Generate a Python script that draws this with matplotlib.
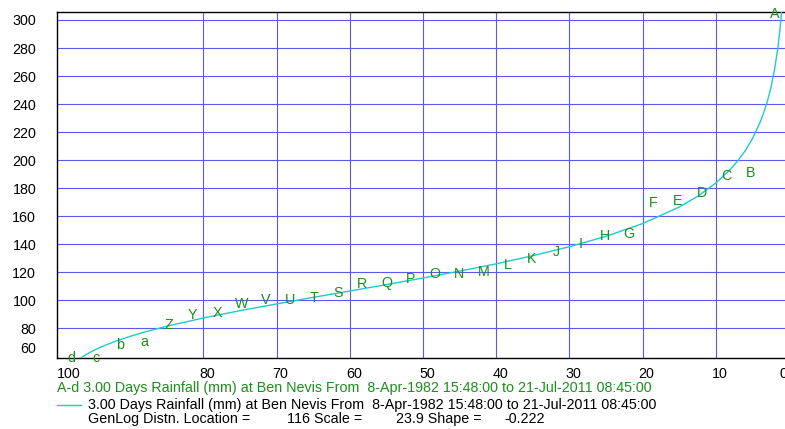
import matplotlib
matplotlib.use("Agg")
import matplotlib.pyplot as plt
from matplotlib.transforms import ScaledTranslation
from matplotlib.lines import Line2D

plt.rcParams['font.family'] = ['Liberation Sans', 'DejaVu Sans']

# Observed points (letters A..d): exceedance percentage and rainfall (mm)
point_labels = list("ABCDEFGHIJKLMNOPQRSTUVWXYZ") + list("abcd")
point_pct = [1.99, 5.30, 8.61, 11.92, 15.23, 18.54, 21.85, 25.17, 28.48, 31.79,
             35.10, 38.41, 41.72, 45.03, 48.34, 51.66, 54.97, 58.28, 61.59, 64.90,
             68.21, 71.52, 74.83, 78.15, 81.46, 84.77, 88.08, 91.39, 94.70, 98.01]
point_mm = [304.4, 191.1, 188.8, 176.9, 170.9, 169.2, 147.1, 146.0, 140.6, 134.7,
            129.9, 125.6, 120.4, 119.0, 119.0, 115.6, 112.1, 111.4, 105.6, 101.4,
            100.2, 100.2, 97.6, 91.1, 89.9, 82.8, 70.2, 68.0, 59.0, 59.0]

# Fitted GenLog curve
curve_pct = [1.0, 1.1, 1.2, 1.5, 2.0, 2.5, 3.0, 3.5, 4.0, 5.0, 6.0, 7.0, 8.0, 10.0,
             12.5, 15.0, 20.0, 25.0, 30.0, 35.0, 40.0, 45.0, 50.0, 55.0, 60.0, 65.0,
             70.0, 75.0, 80.0, 85.0, 88.0, 90.0, 92.0, 94.0, 95.0, 96.0, 97.0]
curve_mm = [306.9, 300.6, 295.0, 280.9, 263.8, 251.1, 241.2, 233.2, 226.4, 215.3,
            206.6, 199.5, 193.5, 183.7, 174.2, 166.6, 154.8, 145.7, 138.3, 131.9,
            126.1, 120.9, 116.0, 111.3, 106.7, 102.2, 97.5, 92.7, 87.5, 81.6,
            77.5, 74.4, 70.9, 66.8, 64.3, 61.5, 58.1]

x_ticks = [100, 80, 70, 60, 50, 40, 30, 20, 10, 0]
y_ticks = [60, 80, 100, 120, 140, 160, 180, 200, 220, 240, 260, 280, 300]

FS = 10.3
W, H = 785, 429
fig = plt.figure(figsize=(W / 100, H / 100), dpi=100)
fig.patch.set_facecolor('white')

left, right, top, bottom = 57, 789, 12, 357.5
ax = fig.add_axes([left / W, (H - bottom) / H, (right - left) / W, (bottom - top) / H])
ax.set_facecolor('white')
ax.set_xlim(100, 0)
ax.set_ylim(59.3, 305.7)

grid_col = '#5a5ae6'
for xv in x_ticks:
    if 0 < xv < 100:
        ax.axvline(xv, color=grid_col, lw=0.8, zorder=1)
for yv in y_ticks:
    if yv > 60:
        ax.axhline(yv, color=grid_col, lw=0.8, zorder=1)

ax.plot(curve_pct, curve_mm, color='#22c8d2', lw=1.0, zorder=3)

green = '#1b8f1b'
for lab, xp, yp in zip(point_labels, point_pct, point_mm):
    ax.text(xp, yp, lab, color=green, fontsize=FS, ha='center', va='center',
            zorder=4, clip_on=False)

for s in ['left', 'bottom', 'top']:
    ax.spines[s].set_color('black')
    ax.spines[s].set_linewidth(1.0)
ax.spines['right'].set_visible(False)

ax.tick_params(axis='both', length=0, labelsize=FS, colors='black')
ax.tick_params(axis='y', pad=15)
ax.tick_params(axis='x', pad=7)
ax.set_xticks(x_ticks, [str(v) for v in x_ticks])
ax.set_yticks(y_ticks, [str(v) for v in y_ticks])

for lab in ax.get_xticklabels():
    t = lab.get_text()
    lab.set_horizontalalignment('left')
    if t == '100':
        dx = 0
    elif t == '0':
        dx = -9
    else:
        dx = -4
    lab.set_transform(lab.get_transform() + ScaledTranslation(dx / 100, 0, fig.dpi_scale_trans))
for lab in ax.get_yticklabels():
    if lab.get_text() == '60':
        lab.set_transform(lab.get_transform() + ScaledTranslation(0, 9.5 / 100, fig.dpi_scale_trans))

def fy(py):
    return (H - py) / H

def fx(px):
    return px / W

fig.text(fx(57), fy(388), "A-d 3.00 Days Rainfall (mm) at Ben Nevis From  8-Apr-1982 15:48:00 to 21-Jul-2011 08:45:00",
         color=green, fontsize=FS, ha='left', va='center')
fig.add_artist(Line2D([fx(57), fx(81)], [fy(405), fy(405)], color='#22c8d2', lw=1.0))
fig.text(fx(88), fy(405), "3.00 Days Rainfall (mm) at Ben Nevis From  8-Apr-1982 15:48:00 to 21-Jul-2011 08:45:00",
         color='black', fontsize=FS, ha='left', va='center')
fig.text(fx(88), fy(419), "GenLog Distn. Location =", color='black', fontsize=FS, ha='left', va='center')
fig.text(fx(287), fy(419), "116 Scale =", color='black', fontsize=FS, ha='left', va='center')
fig.text(fx(396), fy(419), "23.9 Shape =", color='black', fontsize=FS, ha='left', va='center')
fig.text(fx(504), fy(419), "-0.222", color='black', fontsize=FS, ha='left', va='center')

fig.savefig('out.png', dpi=100)
